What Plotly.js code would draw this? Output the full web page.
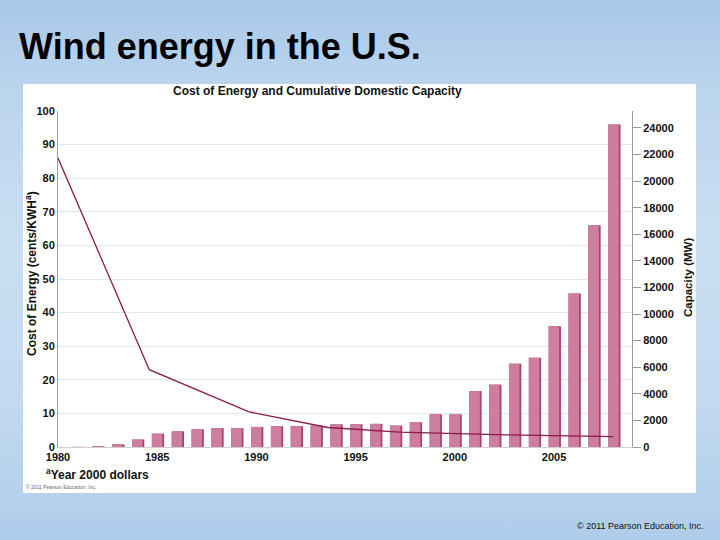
<!DOCTYPE html>
<html><head><meta charset="utf-8">
<script src="https://cdn.plot.ly/plotly-3.0.1.min.js"></script>
<style>
html,body{margin:0;padding:0;}
body{width:720px;height:540px;overflow:hidden;position:relative;
background:linear-gradient(to bottom,#a7c7e7 0%,#bad4ee 15%,#cadef2 45%,#c2d9f0 75%,#aecdeb 100%);}
#panel{position:absolute;left:23px;top:84px;width:673px;height:409px;background:#ffffff;}
#chart{position:absolute;left:0;top:0;width:720px;height:540px;}
</style></head><body>
<div id="panel"></div><div id="chart"></div>
<script>
// ---- data ----
const years = [1980,1981,1982,1983,1984,1985,1986,1987,1988,1989,1990,1991,1992,1993,1994,1995,1996,1997,1998,1999,2000,2001,2002,2003,2004,2005,2006,2007,2008];
const capacityMW = [0,10,50,200,560,1000,1180,1330,1410,1410,1510,1560,1560,1610,1710,1710,1740,1610,1860,2460,2460,4210,4690,6270,6720,9080,11540,16670,24260];
const costYears = [1980,1984.6,1989.6,1993.6,1997.2,2002.6,2008];
const costCents = [86,23,10.5,5.8,4.4,3.6,3.1];
const xTickVals = [1980,1985,1990,1995,2000,2005];
const costTicks = [0,10,20,30,40,50,60,70,80,90,100];
const capTicks = [0,2000,4000,6000,8000,10000,12000,14000,16000,18000,20000,22000,24000];

// ---- layout helpers (pixel -> paper) ----
const L=58, R=632, T=111, B=447;
const px = x => (x-L)/(R-L);
const py = y => (B-y)/(B-T);
const FONT = 'Liberation Sans, Arial, Helvetica, sans-serif';

const traces = [
  {type:'bar', x:years, y:capacityMW, width:0.62, offset:-0.27, xaxis:'x', yaxis:'y',
   marker:{color:'#a8426f', line:{width:0}}, hoverinfo:'skip'},
  {type:'bar', x:years, y:capacityMW, width:0.53, offset:-0.27, xaxis:'x', yaxis:'y',
   marker:{color:'#cd7d9d', line:{width:0}}, hoverinfo:'skip'},
  {type:'scatter', mode:'lines', x:costYears, y:costCents, xaxis:'x', yaxis:'y2',
   line:{color:'#8a1c4c', width:1.3}, hoverinfo:'skip'}
];

const tickFont = {family:FONT, size:11, color:'#111', weight:'bold'};
const layout = {
  width:720, height:540,
  margin:{l:L, r:720-R, t:T, b:540-B, pad:0},
  paper_bgcolor:'rgba(0,0,0,0)', plot_bgcolor:'rgba(0,0,0,0)',
  showlegend:false, barmode:'overlay',
  font:{family:FONT, color:'#111', size:11},
  xaxis:{range:[1980,2008.93], tickvals:xTickVals, ticktext:xTickVals.map(String),
    showgrid:false, zeroline:false, showline:true, linecolor:'#cfcfcf', ticks:'',
    tickfont:tickFont, fixedrange:true},
  yaxis:{side:'right', range:[0,25270], tickvals:capTicks, tickformat:'d',
    showgrid:false, zeroline:false, showline:true, linecolor:'#9a9a9a',
    ticks:'outside', ticklen:8, tickcolor:'#9a9a9a', tickfont:tickFont},
  yaxis2:{side:'left', overlaying:'y', range:[0,100], tickvals:costTicks,
    showgrid:true, gridcolor:'#dbe8ef', gridwidth:1, zeroline:false,
    showline:true, linecolor:'#9a9a9a', ticks:'', tickfont:tickFont},
  annotations:[
    {text:'<b>Wind energy in the U.S.</b>', xref:'paper', yref:'paper', x:px(17), y:py(46),
     xanchor:'left', yanchor:'middle', showarrow:false, font:{family:FONT, size:36, color:'#000'}},
    {text:'<b>Cost of Energy and Cumulative Domestic Capacity</b>', xref:'paper', yref:'paper',
     x:px(171), y:py(91), xanchor:'left', yanchor:'middle', showarrow:false,
     font:{family:FONT, size:12, color:'#111'}},
    {text:'<b>Cost of Energy (cents/KWH<sup>a</sup>)</b>', xref:'paper', yref:'paper',
     x:px(31), y:py(274), xanchor:'center', yanchor:'middle', textangle:-90, showarrow:false,
     font:{family:FONT, size:12, color:'#111'}},
    {text:'<b>Capacity (MW)</b>', xref:'paper', yref:'paper',
     x:px(688), y:py(278), xanchor:'center', yanchor:'middle', textangle:-90, showarrow:false,
     font:{family:FONT, size:11.5, color:'#111'}},
    {text:'<b><sup>a</sup>Year 2000 dollars</b>', xref:'paper', yref:'paper', x:px(44), y:py(474),
     xanchor:'left', yanchor:'middle', showarrow:false, font:{family:FONT, size:12, color:'#111'}},
    {text:'© 2011 Pearson Education, Inc.', xref:'paper', yref:'paper', x:px(24), y:py(487),
     xanchor:'left', yanchor:'middle', showarrow:false, font:{family:FONT, size:5, color:'#666'}},
    {text:'© 2011 Pearson Education, Inc.', xref:'paper', yref:'paper', x:px(575), y:py(526),
     xanchor:'left', yanchor:'middle', showarrow:false, font:{family:FONT, size:9, color:'#111'}}
  ]
};
Plotly.newPlot('chart', traces, layout, {staticPlot:true, displayModeBar:false});
</script>
</body></html>
